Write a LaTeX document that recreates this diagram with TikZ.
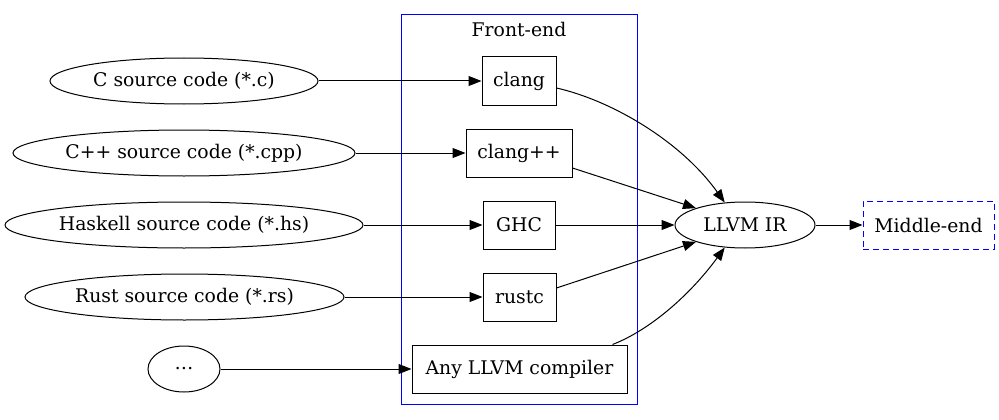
\documentclass[tikz,border=0pt]{standalone}
\usepackage{fontspec}
\setmainfont{DejaVu Serif}
\usetikzlibrary{arrows.meta,shapes.geometric}
\begin{document}
\begin{tikzpicture}[x=1pt,y=-1pt,
  every node/.style={font=\fontsize{18.8}{22}\selectfont},
  src/.style={ellipse,draw,line width=1pt,minimum height=46pt,inner sep=0pt},
  tool/.style={rectangle,draw,line width=1pt,minimum height=48pt,inner sep=0pt},
  conn/.style={line width=1pt,-{Triangle[length=13pt,width=10pt]}}]
\useasboundingbox (0,0) rectangle (999,420);
% cluster
\draw[blue,line width=1pt] (401,15) rectangle (637,404);
\node (fe) at (519,29) {Front-end};
% sources
\node[src,minimum width=268pt,label=center:{C source code (*.c)}] (c) at (184,81) {};
\node[src,minimum width=342pt,label=center:{C++ source code (*.cpp)}] (cpp) at (184,153) {};
\node[src,minimum width=358pt,label=center:{Haskell source code (*.hs)}] (hs) at (184,225) {};
\node[src,minimum width=319pt,label=center:{Rust source code (*.rs)}] (rs) at (184.5,297) {};
\node[src,minimum width=72pt,label=center:{\dots}] (dots) at (184,369) {};
% front-end tools
\node[tool,minimum width=74pt] (clang) at (519,81) {clang};
\node[tool,minimum width=106pt] (clangpp) at (519,153) {clang++};
\node[tool,minimum width=72pt] (ghc) at (519,225) {GHC};
\node[tool,minimum width=73pt] (rustc) at (519.5,297) {rustc};
\node[tool,minimum width=215pt] (any) at (519.5,369) {Any LLVM compiler};
% IR and middle-end
\node[src,minimum width=140pt,label=center:{LLVM IR}] (ir) at (745,225) {};
\node[tool,minimum width=131pt,draw=blue,dash pattern=on 6pt off 4pt] (me) at (928.5,225) {Middle-end};
% connectors
\draw[conn] (c.east) -- (clang.west);
\draw[conn] (cpp.east) -- (clangpp.west);
\draw[conn] (hs.east) -- (ghc.west);
\draw[conn] (rs.east) -- (rustc.west);
\draw[conn] (dots.east) -- (any.west);
\draw[conn] ([yshift=-7pt]clang.east) .. controls (610,100) and (680,140) .. (ir.132);
\draw[conn] ([yshift=-15pt]clangpp.east) -- (ir.161);
\draw[conn] (ghc.east) -- (ir.west);
\draw[conn] ([yshift=9pt]rustc.east) -- (ir.199);
\draw[conn] ([xshift=93pt]any.north) .. controls (650,330) and (690,295) .. (ir.228);
\draw[conn] (ir.east) -- (me.west);
\end{tikzpicture}
\end{document}
